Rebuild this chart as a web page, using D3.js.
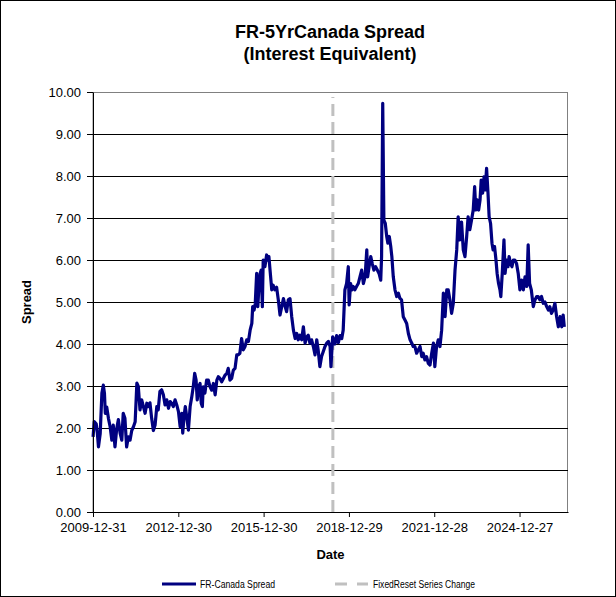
<!DOCTYPE html>
<html>
<head>
<meta charset="utf-8">
<script src="https://cdn.jsdelivr.net/npm/d3@7"></script>
<style>
  body { margin: 0; background: #fff; }
  svg { display: block; font-family: "Liberation Sans", Arial, sans-serif; }
</style>
</head>
<body>
<div id="chart"></div>
<script>
const obsYear = [
  2010.00, 2010.04, 2010.11, 2010.15, 2010.19, 2010.25, 2010.31, 2010.36, 2010.40, 2010.43,
  2010.48, 2010.54, 2010.60, 2010.66, 2010.71, 2010.77, 2010.83, 2010.89, 2010.95, 2011.01,
  2011.06, 2011.12, 2011.18, 2011.24, 2011.30, 2011.36, 2011.42, 2011.48, 2011.54, 2011.59,
  2011.65, 2011.71, 2011.77, 2011.83, 2011.89, 2011.94, 2012.00, 2012.06, 2012.12, 2012.18,
  2012.24, 2012.29, 2012.35, 2012.41, 2012.47, 2012.53, 2012.59, 2012.65, 2012.71, 2012.76,
  2012.82, 2012.88, 2012.94, 2013.00, 2013.06, 2013.12, 2013.15, 2013.20, 2013.24, 2013.29,
  2013.35, 2013.41, 2013.47, 2013.52, 2013.57, 2013.62, 2013.66, 2013.71, 2013.76, 2013.80,
  2013.84, 2013.87, 2013.93, 2013.99, 2014.05, 2014.11, 2014.17, 2014.23, 2014.29, 2014.35,
  2014.40, 2014.46, 2014.52, 2014.58, 2014.64, 2014.70, 2014.75, 2014.81, 2014.87, 2014.93,
  2014.99, 2015.05, 2015.10, 2015.16, 2015.22, 2015.28, 2015.34, 2015.40, 2015.46, 2015.52,
  2015.58, 2015.61, 2015.66, 2015.70, 2015.75, 2015.79, 2015.83, 2015.87, 2015.91, 2015.95,
  2015.98, 2016.04, 2016.10, 2016.15, 2016.18, 2016.22, 2016.28, 2016.33, 2016.39, 2016.45,
  2016.51, 2016.57, 2016.63, 2016.69, 2016.75, 2016.80, 2016.86, 2016.92, 2016.98, 2017.04,
  2017.10, 2017.16, 2017.21, 2017.27, 2017.33, 2017.39, 2017.45, 2017.51, 2017.56, 2017.62,
  2017.68, 2017.74, 2017.80, 2017.86, 2017.91, 2017.97, 2018.03, 2018.09, 2018.15, 2018.21,
  2018.27, 2018.33, 2018.36, 2018.42, 2018.50, 2018.56, 2018.62, 2018.68, 2018.74, 2018.79,
  2018.85, 2018.91, 2018.97, 2019.00, 2019.05, 2019.10, 2019.14, 2019.20, 2019.26, 2019.32,
  2019.38, 2019.44, 2019.50, 2019.56, 2019.62, 2019.65, 2019.70, 2019.76, 2019.81, 2019.87,
  2019.93, 2019.99, 2020.05, 2020.11, 2020.14, 2020.18, 2020.22, 2020.27, 2020.32, 2020.36,
  2020.41, 2020.46, 2020.50, 2020.55, 2020.61, 2020.67, 2020.73, 2020.78, 2020.84, 2020.90,
  2020.96, 2021.02, 2021.08, 2021.14, 2021.20, 2021.25, 2021.31, 2021.37, 2021.43, 2021.49,
  2021.55, 2021.60, 2021.66, 2021.72, 2021.78, 2021.84, 2021.90, 2021.96, 2022.01, 2022.07,
  2022.13, 2022.19, 2022.25, 2022.31, 2022.37, 2022.43, 2022.48, 2022.54, 2022.60, 2022.66,
  2022.72, 2022.78, 2022.83, 2022.89, 2022.95, 2023.01, 2023.07, 2023.13, 2023.18, 2023.24,
  2023.30, 2023.36, 2023.41, 2023.45, 2023.50, 2023.55, 2023.60, 2023.64, 2023.69, 2023.74,
  2023.78, 2023.83, 2023.88, 2023.92, 2023.97, 2024.02, 2024.06, 2024.11, 2024.16, 2024.20,
  2024.25, 2024.30, 2024.33, 2024.38, 2024.44, 2024.48, 2024.53, 2024.58, 2024.62, 2024.67,
  2024.72, 2024.77, 2024.82, 2024.88, 2024.94, 2025.00, 2025.06, 2025.12, 2025.18, 2025.24,
  2025.29, 2025.34, 2025.40, 2025.47, 2025.53, 2025.59, 2025.64, 2025.70, 2025.76, 2025.82,
  2025.88, 2025.94, 2026.00, 2026.05, 2026.11, 2026.17, 2026.23, 2026.29, 2026.35, 2026.41,
  2026.47, 2026.52, 2026.56
];

const spread = [
  1.79, 2.15, 2.10, 1.88, 1.55, 1.86, 2.83, 3.02, 2.83, 2.35,
  2.50, 2.23, 2.03, 1.71, 2.07, 1.55, 1.98, 2.20, 1.88, 1.71,
  2.35, 2.23, 1.55, 1.79, 1.71, 1.94, 2.03, 2.15, 3.07, 2.99,
  2.43, 2.67, 2.51, 2.35, 2.59, 2.51, 2.60, 2.23, 1.94, 2.07,
  2.51, 2.43, 2.87, 2.91, 2.79, 2.55, 2.67, 2.47, 2.63, 2.59,
  2.51, 2.67, 2.55, 2.39, 2.03, 2.35, 1.88, 2.30, 2.51, 2.27,
  1.95, 2.51, 2.75, 2.98, 3.30, 3.14, 2.67, 2.98, 3.06, 2.59,
  2.51, 2.98, 2.83, 3.14, 3.14, 2.98, 2.90, 3.06, 2.79, 3.14,
  3.22, 3.18, 3.10, 3.18, 3.26, 3.30, 3.42, 3.14, 3.18, 3.38,
  3.42, 3.74, 3.74, 3.78, 4.13, 3.86, 3.94, 4.10, 4.06, 4.33,
  4.49, 4.89, 4.81, 4.96, 5.68, 4.89, 5.37, 5.68, 5.76, 4.89,
  6.00, 5.84, 6.12, 6.00, 6.08, 5.76, 5.29, 5.40, 5.29, 5.35,
  5.05, 4.69, 4.89, 5.08, 4.89, 4.77, 5.05, 5.08, 4.65, 4.33,
  4.13, 4.25, 4.10, 4.21, 4.10, 4.41, 4.02, 4.17, 4.21, 4.02,
  4.10, 3.94, 3.74, 4.10, 3.86, 3.46, 3.70, 3.82, 3.94, 4.02,
  4.06, 3.94, 3.46, 4.17, 4.00, 4.20, 4.03, 4.20, 4.13, 4.33,
  5.29, 5.44, 5.84, 4.93, 5.44, 5.29, 5.37, 5.29, 5.37, 5.44,
  5.60, 5.76, 5.44, 5.60, 6.24, 5.60, 5.84, 6.08, 5.92, 5.76,
  5.84, 5.76, 5.68, 5.52, 6.08, 9.73, 6.95, 6.87, 6.56, 6.40,
  6.56, 6.33, 6.08, 5.60, 5.29, 5.13, 5.21, 5.09, 5.05, 4.65,
  4.57, 4.49, 4.25, 4.10, 4.02, 3.94, 3.94, 3.78, 3.86, 3.94,
  3.70, 3.78, 3.62, 3.70, 3.54, 3.50, 3.78, 4.02, 3.46, 3.94,
  4.10, 3.94, 4.33, 5.21, 4.65, 5.29, 5.29, 5.05, 4.73, 4.97,
  5.76, 6.24, 7.03, 6.48, 6.90, 6.24, 6.08, 6.56, 7.03, 6.72,
  6.95, 7.19, 7.75, 7.19, 7.43, 7.19, 7.43, 7.90, 7.59, 7.98,
  7.67, 8.18, 7.59, 7.03, 6.87, 6.40, 6.24, 6.32, 6.00, 5.68,
  5.44, 5.29, 5.13, 5.68, 6.48, 5.68, 6.00, 5.84, 6.08, 5.92,
  5.84, 6.00, 6.00, 5.92, 5.68, 5.29, 5.52, 5.29, 5.60, 5.37,
  6.36, 5.44, 5.29, 4.89, 5.05, 5.13, 5.13, 5.05, 5.13, 4.97,
  5.00, 4.89, 4.81, 4.89, 4.73, 4.81, 4.97, 4.65, 4.41, 4.65,
  4.41, 4.69, 4.41
];

const xTickDates = ["2009-12-31", "2012-12-30", "2015-12-30", "2018-12-29", "2021-12-28", "2024-12-27"];
const xDomain = ["2009-12-31", "2026-09-10"];
const yTicks = [0, 1, 2, 3, 4, 5, 6, 7, 8, 9, 10];
const seriesChangeDate = "2018-06-06";
const titleLines = ["FR-5YrCanada Spread", "(Interest Equivalent)"];
const legendLabels = ["FR-Canada Spread", "FixedReset Series Change"];

const width = 616, height = 597;
const plot = { left: 93, right: 568, top: 92, bottom: 512 };

const parseDate = d3.utcParse("%Y-%m-%d");

function fromDecimalYear(v) {
    const yr = Math.floor(v);
    const start = Date.UTC(yr, 0, 1), end = Date.UTC(yr + 1, 0, 1);
    return new Date(start + (v - yr) * (end - start));
}

const data = obsYear.map((v, i) => ({ date: fromDecimalYear(v), value: spread[i] }));

const x = d3.scaleUtc()
    .domain(xDomain.map(parseDate))
    .range([plot.left, plot.right]);

const y = d3.scaleLinear()
    .domain([0, 10])
    .range([plot.bottom, plot.top]);

const svg = d3.select("#chart").append("svg")
    .attr("width", width)
    .attr("height", height);

svg.append("rect")
    .attr("x", 0.5).attr("y", 0.5)
    .attr("width", width - 1).attr("height", height - 1)
    .attr("fill", "#fff")
    .attr("stroke", "#000");

// plot area frame (grey top / right)
svg.append("rect")
    .attr("x", plot.left).attr("y", plot.top + 0.5)
    .attr("width", plot.right - plot.left - 0.5)
    .attr("height", plot.bottom - plot.top)
    .attr("fill", "none")
    .attr("stroke", "#808080");

svg.append("g")
    .attr("stroke", "#000")
    .attr("stroke-width", 1)
    .selectAll("line")
    .data(yTicks.filter(d => d > 0 && d < 10))
    .join("line")
    .attr("x1", plot.left)
    .attr("x2", plot.right)
    .attr("y1", d => Math.round(y(d)) + 0.5)
    .attr("y2", d => Math.round(y(d)) + 0.5);

svg.append("line")
    .attr("x1", x(parseDate(seriesChangeDate)))
    .attr("x2", x(parseDate(seriesChangeDate)))
    .attr("y1", y(0))
    .attr("y2", y(9.88))
    .attr("stroke", "#c0c0c0")
    .attr("stroke-width", 3)
    .attr("stroke-dasharray", "12,6");

const line = d3.line()
    .x(d => x(d.date))
    .y(d => y(d.value));

svg.append("path")
    .datum(data)
    .attr("fill", "none")
    .attr("stroke", "#000080")
    .attr("stroke-width", 3.2)
    .attr("stroke-linejoin", "round")
    .attr("d", line);

const xAxis = svg.append("g")
    .attr("transform", `translate(0,${plot.bottom})`)
    .call(d3.axisBottom(x)
        .tickValues(xTickDates.map(parseDate))
        .tickFormat(d3.utcFormat("%Y-%m-%d"))
        .tickSize(5)
        .tickSizeOuter(0));

const yAxis = svg.append("g")
    .attr("transform", `translate(${plot.left},0)`)
    .call(d3.axisLeft(y)
        .tickValues(yTicks)
        .tickFormat(d3.format(".2f"))
        .tickSize(6)
        .tickSizeOuter(0));

[xAxis, yAxis].forEach(g => {
    g.select(".domain").attr("stroke", "#000");
    g.selectAll(".tick line").attr("stroke", "#000");
    g.selectAll(".tick text")
        .attr("fill", "#000")
        .attr("font-size", 13)
        .attr("font-family", "Liberation Sans, Arial, sans-serif");
});
xAxis.selectAll(".tick text").attr("dy", "0.95em");
yAxis.selectAll(".tick text").attr("x", -12);

svg.append("g")
    .attr("font-size", 18)
    .attr("font-weight", "bold")
    .attr("text-anchor", "middle")
    .selectAll("text")
    .data(titleLines)
    .join("text")
    .attr("x", 330)
    .attr("y", (d, i) => 38 + i * 22)
    .text(d => d);

svg.append("text")
    .attr("x", (plot.left + plot.right) / 2)
    .attr("y", 559)
    .attr("text-anchor", "middle")
    .attr("font-size", 13)
    .attr("font-weight", "bold")
    .text("Date");

svg.append("text")
    .attr("transform", `translate(31,${(plot.top + plot.bottom) / 2}) rotate(-90)`)
    .attr("text-anchor", "middle")
    .attr("font-size", 13)
    .attr("font-weight", "bold")
    .text("Spread");

const legend = svg.append("g").attr("font-size", 10);

legend.append("line")
    .attr("x1", 162).attr("x2", 196)
    .attr("y1", 584).attr("y2", 584)
    .attr("stroke", "#000080")
    .attr("stroke-width", 3);

legend.append("text")
    .attr("x", 200).attr("y", 587.5)
    .attr("textLength", 75)
    .attr("lengthAdjust", "spacingAndGlyphs")
    .text(legendLabels[0]);

legend.append("line")
    .attr("x1", 335).attr("x2", 368)
    .attr("y1", 584).attr("y2", 584)
    .attr("stroke", "#c0c0c0")
    .attr("stroke-width", 3)
    .attr("stroke-dasharray", "12,10");

legend.append("text")
    .attr("x", 373).attr("y", 587.5)
    .attr("textLength", 102)
    .attr("lengthAdjust", "spacingAndGlyphs")
    .text(legendLabels[1]);
</script>
</body>
</html>
